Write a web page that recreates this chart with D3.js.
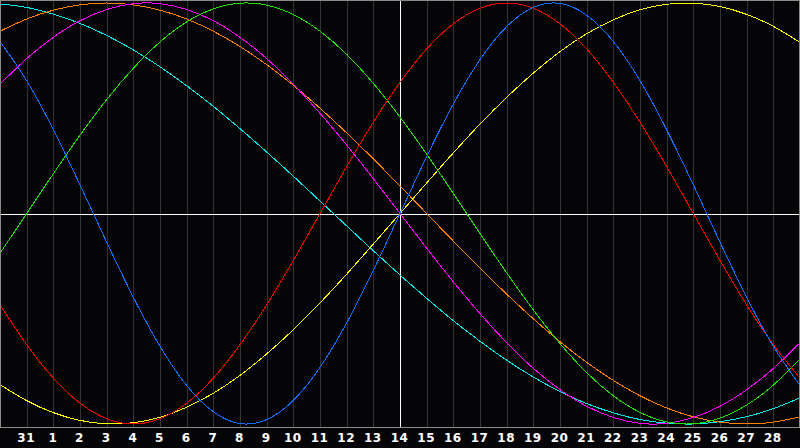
<!DOCTYPE html>
<html>
<head>
<meta charset="utf-8">
<script src="https://cdn.jsdelivr.net/npm/d3@7/dist/d3.min.js"></script>
<style>
	html, body { margin: 0; padding: 0; background: #050508; }
	svg { display: block; }
	.tick text { font-family: "DejaVu Sans", sans-serif; font-weight: bold; font-size: 12px; fill: #ffffff; }
</style>
</head>
<body>
<svg id="chart" width="800" height="448"></svg>
<script>
	// day labels under the grid lines (index 1..29), index 0 and 30 sit on the edges
	var dayLabels = ["30", "31", "1", "2", "3", "4", "5", "6", "7", "8", "9", "10", "11", "12", "13",
		"14", "15", "16", "17", "18", "19", "20", "21", "22", "23", "24", "25", "26", "27", "28", "29"];

	// one value per day (-1 .. 1)
	var physical = [0.817, 0.631, 0.398, 0.136, -0.136, -0.398, -0.631, -0.817, -0.942, -0.998, -0.979,
		-0.888, -0.731, -0.520, -0.270, 0, 0.270, 0.520, 0.731, 0.888, 0.979, 0.998, 0.942, 0.817,
		0.631, 0.398, 0.136, -0.136, -0.398, -0.631, -0.817];
	var emotional = [-0.434, -0.623, -0.782, -0.901, -0.975, -1, -0.975, -0.901, -0.782, -0.623, -0.434,
		-0.223, 0, 0.223, 0.434, 0.623, 0.782, 0.901, 0.975, 1, 0.975, 0.901, 0.782, 0.623, 0.434,
		0.223, 0, -0.223, -0.434, -0.623, -0.782];
	var intellectual = [-0.189, 0, 0.189, 0.372, 0.541, 0.690, 0.815, 0.910, 0.972, 0.999, 0.990,
		0.945, 0.866, 0.756, 0.618, 0.458, 0.282, 0.095, -0.095, -0.282, -0.458, -0.618, -0.756,
		-0.866, -0.945, -0.990, -0.999, -0.972, -0.910, -0.815, -0.690];
	var intuitive = [0.614, 0.736, 0.837, 0.916, 0.969, 0.997, 0.997, 0.969, 0.916, 0.837, 0.736,
		0.614, 0.476, 0.325, 0.165, 0, -0.165, -0.325, -0.476, -0.614, -0.736, -0.837, -0.916,
		-0.969, -0.997, -0.997, -0.969, -0.916, -0.837, -0.736, -0.614];
	var aesthetic = [-0.813, -0.889, -0.946, -0.983, -0.999, -0.994, -0.968, -0.920, -0.854, -0.769,
		-0.667, -0.552, -0.425, -0.288, -0.145, 0, 0.145, 0.288, 0.425, 0.552, 0.667, 0.769, 0.854,
		0.920, 0.968, 0.994, 0.999, 0.983, 0.946, 0.889, 0.813];
	var awareness = [0.866, 0.924, 0.966, 0.991, 1, 0.991, 0.966, 0.924, 0.866, 0.793, 0.707, 0.609,
		0.5, 0.383, 0.259, 0.131, 0, -0.131, -0.259, -0.383, -0.5, -0.609, -0.707, -0.793, -0.866,
		-0.924, -0.966, -0.991, -1, -0.991, -0.966];
	var spiritual = [0.996, 0.979, 0.947, 0.903, 0.846, 0.777, 0.697, 0.607, 0.509, 0.403, 0.292,
		0.177, 0.059, -0.059, -0.177, -0.292, -0.403, -0.509, -0.607, -0.697, -0.777, -0.846,
		-0.903, -0.947, -0.979, -0.996, -1.000, -0.989, -0.965, -0.927, -0.876];

	var series = [
		{ name: "spiritual", values: spiritual, color: "#00e8e8" },
		{ name: "awareness", values: awareness, color: "#ff8000" },
		{ name: "aesthetic", values: aesthetic, color: "#ffff00" },
		{ name: "intuitive", values: intuitive, color: "#ff00ff" },
		{ name: "intellectual", values: intellectual, color: "#20e000" },
		{ name: "emotional", values: emotional, color: "#f00000" },
		{ name: "physical", values: physical, color: "#1070ff" }
	];

	var svg = d3.select("#chart");
	var width = 800, plotH = 427;

	var x = d3.scaleLinear().domain([0, dayLabels.length - 1]).range([0, width]);
	var y = d3.scaleLinear().domain([-1, 1]).range([424, 3]);

	var px = function(v) { return Math.round(v) + 0.5; };

	// day grid
	var grid = svg.append("g");
	grid.selectAll("line")
		.data(d3.range(1, dayLabels.length - 1))
		.enter().append("line")
		.attr("x1", function(d) { return px(x(d)); })
		.attr("x2", function(d) { return px(x(d)); })
		.attr("y1", 0)
		.attr("y2", plotH)
		.attr("stroke", "#333333")
		.attr("shape-rendering", "crispEdges");

	// axes cross
	svg.append("line")
		.attr("x1", 0).attr("x2", width)
		.attr("y1", px(y(0))).attr("y2", px(y(0)))
		.attr("stroke", "#ffffff")
		.attr("shape-rendering", "crispEdges");
	svg.append("line")
		.attr("x1", px(x(15))).attr("x2", px(x(15)))
		.attr("y1", 0).attr("y2", plotH)
		.attr("stroke", "#ffffff")
		.attr("shape-rendering", "crispEdges");

	// curves
	var line = d3.line()
		.x(function(d, i) { return x(i); })
		.y(function(d) { return y(d); })
		.curve(d3.curveNatural);
	svg.append("g").selectAll("path")
		.data(series)
		.enter().append("path")
		.attr("d", function(s) { return line(s.values); })
		.attr("fill", "none")
		.attr("stroke", function(s) { return s.color; })
		.attr("stroke-width", 1)
		.attr("shape-rendering", "crispEdges");

	// frame
	svg.append("rect")
		.attr("x", 0.5).attr("y", 0.5)
		.attr("width", width - 1).attr("height", plotH)
		.attr("fill", "none")
		.attr("stroke", "#8a8a8a")
		.attr("shape-rendering", "crispEdges");

	// day labels
	var xAxis = d3.axisBottom(x)
		.tickValues(d3.range(1, dayLabels.length - 1))
		.tickFormat(function(i) { return dayLabels[i]; })
		.tickSize(0)
		.tickPadding(0);
	var ax = svg.append("g")
		.attr("transform", "translate(0," + 433 + ")")
		.call(xAxis);
	ax.select(".domain").remove();
	ax.selectAll("text").attr("dx", -1).attr("letter-spacing", "0.5px");
</script>
</body>
</html>
